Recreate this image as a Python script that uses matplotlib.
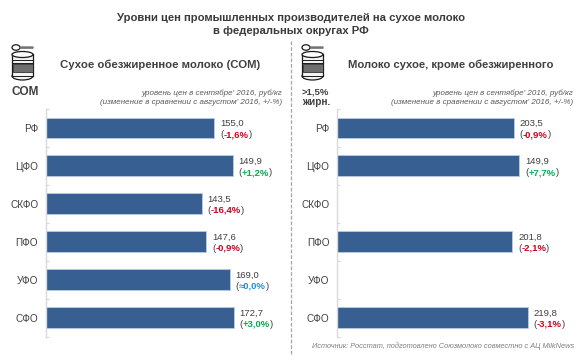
import matplotlib
matplotlib.use("Agg")
import matplotlib.pyplot as plt
from matplotlib.patches import Ellipse, Rectangle, FancyBboxPatch
from matplotlib.lines import Line2D

W, H = 582, 363
plt.rcParams['font.family'] = ['Liberation Sans', 'DejaVu Sans']

# ---- data ----
regions = ["РФ", "ЦФО", "СКФО", "ПФО", "УФО", "СФО"]
title_lines = ["Уровни цен промышленных производителей на сухое молоко",
               "в федеральных округах РФ"]
left_title = "Сухое обезжиренное молоко (СОМ)"
right_title = "Молоко сухое, кроме обезжиренного"
note1 = "уровень цен в сентябре' 2016, руб/кг"
note2 = "(изменение в сравнении с августом' 2016, +/-%)"
source = "Источник: Росстат, подготовлено Союзмолоко совместно с АЦ MilkNews"

# bar lengths as drawn in the picture; printed labels kept separately
left_bars = [155.0, 171.8, 143.5, 147.6, 169.0, 172.7]
left_vals = ["155,0", "149,9", "143,5", "147,6", "169,0", "172,7"]
left_chg = ["-1,6%", "+1,2%", "-16,4%", "-0,9%", "≈0,0%", "+3,0%"]
right_bars = [203.5, 210.0, None, 201.8, None, 219.8]
right_vals = ["203,5", "149,9", None, "201,8", None, "219,8"]
right_chg = ["-0,9%", "+7,7%", None, "-2,1%", None, "-3,1%"]

BAR = "#375F91"
EDGE = "#B9CDE5"
DARK = "#404040"
RED = "#D0021B"
GREEN = "#00B050"
BLUE = "#1F8FD8"


def chg_color(s):
    return {"-": RED, "+": GREEN}.get(s[0], BLUE)


fig = plt.figure(figsize=(W / 100, H / 100), dpi=100, facecolor="white")


def px(x, y):
    return x / W, 1 - y / H


def ftext(x, y, s, **kw):
    fx, fy = px(x, y)
    kw.setdefault("color", DARK)
    kw.setdefault("va", "center")
    return fig.text(fx, fy, s, **kw)


def panel(x0, xend, scale, bars, vals, chgs):
    top, bottom = 109, 336.5
    ax = fig.add_axes([x0 / W, 1 - bottom / H, (xend - x0) / W, (bottom - top) / H])
    ax.set_xlim(0, (xend - x0) / scale)
    ax.set_ylim(5.5, -0.5)
    ax.patch.set_alpha(0)
    for s in ("top", "right", "bottom"):
        ax.spines[s].set_visible(False)
    ax.spines["left"].set_color("#D9D9D9")
    ax.spines["left"].set_linewidth(1.0)
    ax.xaxis.set_visible(False)
    ax.set_yticks(range(len(regions)))
    ax.set_yticklabels(regions, fontsize=7.2, color=DARK)
    ax.tick_params(axis="y", which="major", length=0, pad=5.5)
    ax.set_yticks([i - 0.5 for i in range(len(regions) + 1)], minor=True)
    ax.tick_params(axis="y", which="minor", direction="in", length=2.2, color="#D9D9D9", width=0.8)
    for i, b in enumerate(bars):
        if b is None:
            continue
        ax.barh(i, b, height=0.55, color=BAR, edgecolor=EDGE, linewidth=0.6)
        ax.annotate(vals[i], (b, i), xytext=(4.2, 3.4), textcoords="offset points",
                    fontsize=6.8, color=DARK, va="center", ha="left", annotation_clip=False)
        t = ax.annotate("(", (b, i), xytext=(4.2, -4.8), textcoords="offset points",
                        fontsize=6.8, color=DARK, va="center", ha="left", annotation_clip=False)
        t2 = ax.annotate(chgs[i], xy=(1, 0.5), xycoords=t, xytext=(0, 0), textcoords="offset points",
                         fontsize=6.8, fontweight="bold", color=chg_color(chgs[i]),
                         va="center", ha="left", annotation_clip=False)
        ax.annotate(")", xy=(1, 0.5), xycoords=t2, xytext=(0, 0), textcoords="offset points",
                    fontsize=6.8, color=DARK, va="center", ha="left", annotation_clip=False)
    return ax


panel(45.8, 285, 1.088, left_bars, left_vals, left_chg)
panel(337, 575, 0.868, right_bars, right_vals, right_chg)

# titles
ftext(291, 18, title_lines[0], fontsize=8.15, fontweight="bold", ha="center", color="#3A3A3A")
ftext(291, 31, title_lines[1], fontsize=8.15, fontweight="bold", ha="center", color="#3A3A3A")
ftext(160, 64.5, left_title, fontsize=8.2, fontweight="bold", ha="center", color="#404040")
ftext(451, 65, right_title, fontsize=8.15, fontweight="bold", ha="center", color="#404040")

ftext(25, 92, "СОМ", fontsize=8.6, fontweight="bold", ha="center")
ftext(315.5, 92, ">1,5%", fontsize=6.8, fontweight="bold", ha="center")
ftext(316, 102, "жирн.", fontsize=7.2, fontweight="bold", ha="center")

for xr in (282, 573):
    ftext(xr, 93, note1, fontsize=5.8, style="italic", ha="right", color="#595959")
    ftext(xr, 102.5, note2, fontsize=5.8, style="italic", ha="right", color="#595959")
ftext(574, 346, source, fontsize=5.3, style="italic", ha="right", color="#7F7F7F")

# dashed separator
fx, fy0 = px(290.5, 41)
_, fy1 = px(290.5, 354)
fig.add_artist(Line2D([fx, fx], [fy0, fy1], color="#A6A6A6", lw=0.9, ls=(0, (3, 1.5))))

# full-figure overlay in pixel coordinates for the icons
ov = fig.add_axes([0, 0, 1, 1])
ov.set_xlim(0, W)
ov.set_ylim(H, 0)
ov.axis("off")
ov.patch.set_alpha(0)


def can(cx):
    k = "#1A1A1A"
    ov.add_patch(Ellipse((cx, 76), 21, 8, fc="#F2F2F2", ec=k, lw=0.9, zorder=2))
    ov.add_patch(Rectangle((cx - 10.5, 54), 21, 22, fc="#F2F2F2", ec="none", zorder=3))
    for y in (60, 62.5, 76):
        ov.plot([cx - 10.5, cx + 10.5], [y, y], color=k, lw=0.7, zorder=4)
    ov.plot([cx - 10.5, cx - 10.5], [54, 76], color=k, lw=0.9, zorder=4)
    ov.plot([cx + 10.5, cx + 10.5], [54, 76], color=k, lw=0.9, zorder=4)
    ov.add_patch(Rectangle((cx - 10, 64), 20, 8, fc="#6E6E6E", ec=k, lw=0.5, zorder=5))
    ov.add_patch(Ellipse((cx, 54.5), 21, 6, fc="#FFFFFF", ec=k, lw=0.9, zorder=6))
    ov.add_patch(Ellipse((cx - 6.5, 47.5), 8, 5.5, fc="white", ec=k, lw=0.9, zorder=6))
    ov.add_patch(FancyBboxPatch((cx - 2.5, 47), 13, 1.2, boxstyle="round,pad=0.2", fc="#777777", ec="#555555", lw=0.4, zorder=6))


can(22.5)
can(312.5)

fig.savefig("out.png", dpi=100, facecolor="white")
